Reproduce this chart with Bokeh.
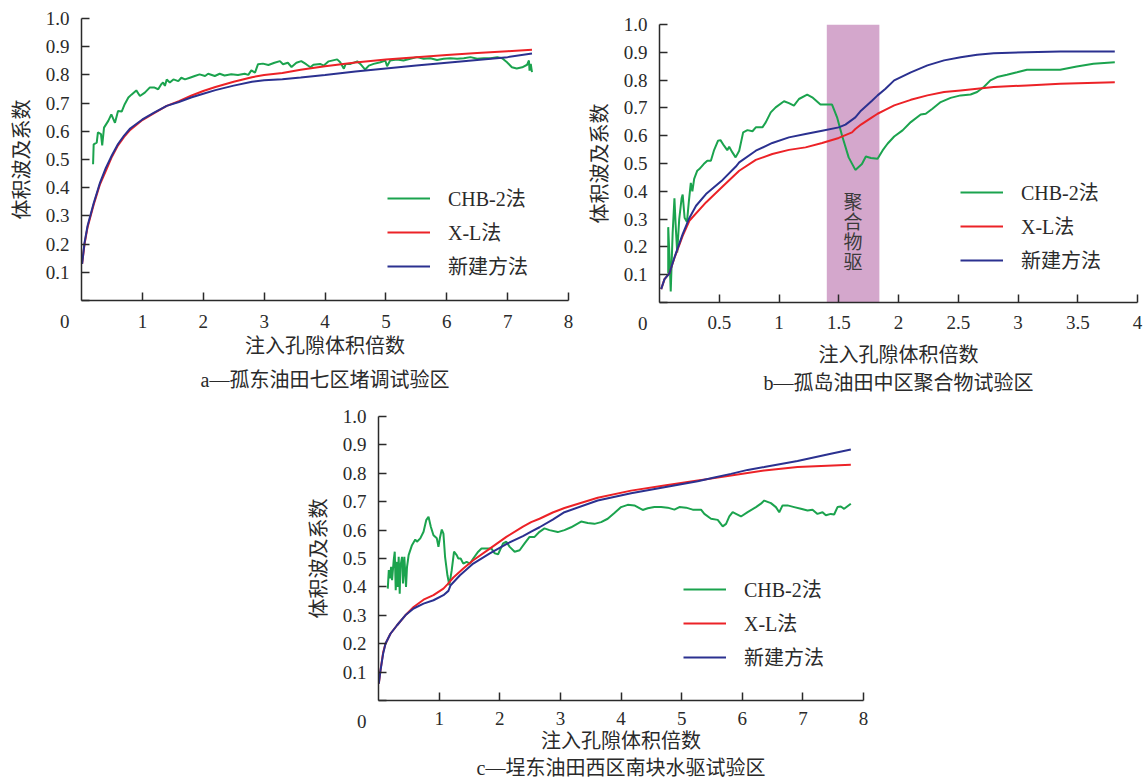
from bokeh.plotting import figure
from bokeh.models import (Range1d, FixedTicker, NumeralTickFormatter, Label,
                          Legend, LegendItem, Spacer, Title)
from bokeh.layouts import row, column
from bokeh.embed import file_html
from bokeh.resources import INLINE

FONT = "'Liberation Serif', 'Noto Sans CJK SC'"
GREEN = "#1ba34e"
RED = "#ec2227"
BLUE = "#2b3190"
INK = "#2a2a2a"

SERIES_NAMES = ["CHB-2法", "X-L法", "新建方法"]
Y_TICKS = [0, 0.1, 0.2, 0.3, 0.4, 0.5, 0.6, 0.7, 0.8, 0.9, 1.0]
Y_TITLE = "体积波及系数"
X_TITLE = "注入孔隙体积倍数"
ORIGIN_LABEL = "0"

# ---------------- panel a ----------------
A_XTICKS = [1, 2, 3, 4, 5, 6, 7, 8]
A_XLABELS = ["1", "2", "3", "4", "5", "6", "7", "8"]
A_CAPTION = "a—孤东油田七区堵调试验区"
A_CHB = [(0.19, 0.483), (0.20, 0.554), (0.25, 0.56), (0.27, 0.596), (0.32, 0.59), (0.34, 0.55),
         (0.37, 0.613), (0.44, 0.637), (0.49, 0.66), (0.55, 0.63), (0.60, 0.672), (0.66, 0.67),
         (0.71, 0.696), (0.77, 0.72), (0.82, 0.73), (0.90, 0.745), (0.96, 0.725), (1.04, 0.737),
         (1.12, 0.755), (1.20, 0.755), (1.26, 0.749), (1.31, 0.767), (1.34, 0.773), (1.37, 0.761),
         (1.40, 0.784), (1.45, 0.773), (1.51, 0.784), (1.59, 0.778), (1.64, 0.79), (1.70, 0.784),
         (1.78, 0.79), (1.86, 0.796), (1.94, 0.802), (2.03, 0.796), (2.08, 0.804), (2.19, 0.796),
         (2.27, 0.804), (2.35, 0.798), (2.46, 0.802), (2.57, 0.80), (2.68, 0.804), (2.74, 0.80),
         (2.79, 0.816), (2.85, 0.808), (2.90, 0.838), (2.98, 0.84), (3.07, 0.835), (3.17, 0.843),
         (3.26, 0.849), (3.31, 0.838), (3.39, 0.843), (3.45, 0.828), (3.53, 0.843), (3.61, 0.849),
         (3.69, 0.838), (3.76, 0.827), (3.81, 0.836), (3.92, 0.839), (3.98, 0.833), (4.06, 0.848),
         (4.20, 0.855), (4.25, 0.845), (4.31, 0.822), (4.34, 0.839), (4.42, 0.839), (4.53, 0.848),
         (4.58, 0.839), (4.66, 0.819), (4.72, 0.833), (4.80, 0.839), (4.91, 0.845), (4.99, 0.851),
         (5.02, 0.831), (5.07, 0.851), (5.18, 0.855), (5.29, 0.851), (5.40, 0.857), (5.51, 0.863),
         (5.62, 0.857), (5.73, 0.859), (5.84, 0.853), (5.95, 0.857), (6.06, 0.859), (6.17, 0.857),
         (6.28, 0.859), (6.39, 0.863), (6.50, 0.857), (6.61, 0.859), (6.72, 0.859), (6.83, 0.863),
         (6.91, 0.859), (6.99, 0.845), (7.07, 0.827), (7.15, 0.823), (7.24, 0.827), (7.32, 0.836),
         (7.35, 0.851), (7.36, 0.815), (7.38, 0.839), (7.40, 0.81)]
A_XL = [(0.01, 0.13), (0.05, 0.20), (0.1, 0.26), (0.2, 0.34), (0.3, 0.41), (0.4, 0.46), (0.5, 0.51),
        (0.6, 0.55), (0.7, 0.58), (0.8, 0.605), (1.0, 0.64), (1.2, 0.665), (1.4, 0.69), (1.6, 0.707),
        (1.8, 0.726), (2.0, 0.743), (2.2, 0.757), (2.5, 0.776), (2.8, 0.792), (3.0, 0.80), (3.3, 0.807),
        (3.6, 0.818), (4.0, 0.831), (4.5, 0.844), (5.0, 0.855), (5.5, 0.863), (6.0, 0.871), (6.5, 0.878),
        (7.0, 0.884), (7.4, 0.889)]
A_NEW = [(0.01, 0.13), (0.05, 0.205), (0.1, 0.265), (0.2, 0.345), (0.3, 0.415), (0.4, 0.47), (0.5, 0.515),
         (0.6, 0.555), (0.7, 0.585), (0.8, 0.61), (1.0, 0.642), (1.2, 0.667), (1.4, 0.69), (1.6, 0.704),
         (1.8, 0.72), (2.0, 0.733), (2.2, 0.746), (2.5, 0.762), (2.8, 0.776), (3.0, 0.781), (3.3, 0.785),
         (3.6, 0.791), (4.0, 0.80), (4.5, 0.812), (5.0, 0.823), (5.5, 0.833), (6.0, 0.843), (6.5, 0.853),
         (7.0, 0.863), (7.4, 0.876)]

# ---------------- panel b ----------------
B_XTICKS = [0.5, 1, 1.5, 2, 2.5, 3, 3.5, 4]
B_XLABELS = ["0.5", "1", "1.5", "2", "2.5", "3", "3.5", "4"]
B_CAPTION = "b—孤岛油田中区聚合物试验区"
B_BAND_LEFT = [1.40]
B_BAND_RIGHT = [1.84]
B_BAND_TEXT = "聚\n合\n物\n驱"
B_CHB = [(0.073, 0.104), (0.073, 0.271), (0.085, 0.15), (0.094, 0.04), (0.110, 0.25), (0.125, 0.375),
         (0.135, 0.28), (0.148, 0.18), (0.165, 0.30), (0.185, 0.375), (0.194, 0.388), (0.210, 0.305),
         (0.230, 0.29), (0.246, 0.365), (0.262, 0.43), (0.275, 0.40), (0.290, 0.445), (0.316, 0.474),
         (0.333, 0.48), (0.37, 0.498), (0.40, 0.51), (0.43, 0.51), (0.455, 0.546), (0.49, 0.582),
         (0.51, 0.584), (0.54, 0.564), (0.567, 0.548), (0.583, 0.56), (0.61, 0.54), (0.637, 0.522),
         (0.667, 0.546), (0.70, 0.612), (0.736, 0.62), (0.778, 0.616), (0.806, 0.63), (0.861, 0.63),
         (0.889, 0.648), (0.931, 0.684), (0.972, 0.702), (1.042, 0.724), (1.083, 0.717), (1.125, 0.708),
         (1.167, 0.732), (1.236, 0.748), (1.278, 0.738), (1.347, 0.712), (1.444, 0.712), (1.486, 0.666),
         (1.528, 0.60), (1.583, 0.522), (1.639, 0.477), (1.694, 0.498), (1.727, 0.525), (1.769, 0.52),
         (1.825, 0.517), (1.867, 0.547), (1.908, 0.571), (1.964, 0.597), (2.034, 0.619), (2.103, 0.649),
         (2.186, 0.676), (2.228, 0.679), (2.284, 0.697), (2.353, 0.721), (2.436, 0.736), (2.52, 0.745),
         (2.603, 0.748), (2.658, 0.757), (2.714, 0.775), (2.769, 0.799), (2.825, 0.811), (2.908, 0.819),
         (2.992, 0.828), (3.075, 0.837), (3.214, 0.837), (3.353, 0.837), (3.492, 0.849), (3.631, 0.859),
         (3.81, 0.864)]
B_XL = [(0.014, 0.048), (0.042, 0.084), (0.083, 0.105), (0.125, 0.16), (0.194, 0.24), (0.25, 0.294),
        (0.389, 0.36), (0.528, 0.417), (0.667, 0.474), (0.806, 0.513), (0.944, 0.534), (1.083, 0.549),
        (1.222, 0.558), (1.361, 0.574), (1.5, 0.592), (1.611, 0.612), (1.639, 0.624), (1.686, 0.64),
        (1.778, 0.666), (1.825, 0.679), (1.889, 0.693), (1.964, 0.709), (2.103, 0.729), (2.242, 0.745),
        (2.381, 0.757), (2.52, 0.763), (2.658, 0.769), (2.797, 0.775), (3.075, 0.781), (3.353, 0.787),
        (3.81, 0.792)]
B_NEW = [(0.014, 0.048), (0.042, 0.084), (0.083, 0.105), (0.125, 0.162), (0.194, 0.246), (0.25, 0.304),
         (0.306, 0.348), (0.389, 0.39), (0.528, 0.441), (0.639, 0.489), (0.667, 0.504), (0.806, 0.546),
         (0.944, 0.574), (1.083, 0.594), (1.222, 0.606), (1.361, 0.618), (1.5, 0.630), (1.556, 0.64),
         (1.639, 0.666), (1.686, 0.69), (1.778, 0.726), (1.825, 0.745), (1.889, 0.768), (1.964, 0.799),
         (2.103, 0.828), (2.242, 0.853), (2.381, 0.871), (2.52, 0.882), (2.658, 0.891), (2.797, 0.897),
         (3.075, 0.90), (3.353, 0.903), (3.81, 0.903)]

# ---------------- panel c ----------------
C_XTICKS = [1, 2, 3, 4, 5, 6, 7, 8]
C_XLABELS = ["1", "2", "3", "4", "5", "6", "7", "8"]
C_CAPTION = "c—埕东油田西区南块水驱试验区"
C_CHB = [(0.153, 0.394), (0.17, 0.459), (0.19, 0.43), (0.208, 0.471), (0.224, 0.424), (0.251, 0.494),
         (0.268, 0.524), (0.284, 0.388), (0.306, 0.488), (0.317, 0.40), (0.333, 0.506), (0.35, 0.376),
         (0.361, 0.471), (0.388, 0.506), (0.404, 0.412), (0.426, 0.506), (0.454, 0.40), (0.47, 0.47),
         (0.497, 0.512), (0.552, 0.547), (0.607, 0.567), (0.634, 0.559), (0.689, 0.571), (0.743, 0.594),
         (0.787, 0.635), (0.825, 0.647), (0.863, 0.612), (0.907, 0.582), (0.962, 0.571), (0.989, 0.541),
         (1.016, 0.576), (1.044, 0.602), (1.071, 0.588), (1.098, 0.506), (1.137, 0.441), (1.169, 0.406),
         (1.208, 0.459), (1.246, 0.524), (1.29, 0.512), (1.317, 0.50), (1.355, 0.50), (1.399, 0.482),
         (1.454, 0.488), (1.508, 0.482), (1.563, 0.50), (1.645, 0.524), (1.699, 0.535), (1.781, 0.535),
         (1.863, 0.535), (1.918, 0.518), (1.973, 0.515), (2.055, 0.553), (2.109, 0.559), (2.164, 0.541),
         (2.246, 0.524), (2.328, 0.529), (2.41, 0.553), (2.492, 0.576), (2.574, 0.576), (2.656, 0.594),
         (2.738, 0.606), (2.82, 0.60), (2.957, 0.593), (3.067, 0.60), (3.177, 0.61), (3.342, 0.63),
         (3.452, 0.625), (3.562, 0.622), (3.672, 0.628), (3.781, 0.64), (3.891, 0.66), (4.001, 0.681),
         (4.111, 0.689), (4.221, 0.687), (4.358, 0.671), (4.441, 0.677), (4.551, 0.681), (4.661, 0.681),
         (4.771, 0.679), (4.881, 0.672), (4.963, 0.681), (5.073, 0.679), (5.183, 0.672), (5.32, 0.672),
         (5.375, 0.657), (5.485, 0.64), (5.595, 0.636), (5.678, 0.613), (5.733, 0.622), (5.787, 0.648),
         (5.842, 0.663), (5.897, 0.657), (5.979, 0.648), (6.089, 0.663), (6.226, 0.681), (6.308, 0.693),
         (6.363, 0.704), (6.473, 0.695), (6.555, 0.681), (6.61, 0.663), (6.665, 0.687), (6.747, 0.687),
         (6.857, 0.681), (6.967, 0.675), (7.077, 0.669), (7.159, 0.672), (7.241, 0.657), (7.324, 0.663),
         (7.379, 0.652), (7.461, 0.657), (7.516, 0.655), (7.571, 0.681), (7.626, 0.683), (7.681, 0.675),
         (7.791, 0.693)]
C_XL = [(0.005, 0.059), (0.033, 0.106), (0.077, 0.17), (0.115, 0.20), (0.197, 0.235), (0.306, 0.265),
        (0.443, 0.30), (0.579, 0.329), (0.743, 0.355), (0.907, 0.371), (1.071, 0.394), (1.137, 0.409),
        (1.235, 0.433), (1.399, 0.465), (1.563, 0.494), (1.836, 0.535), (2.109, 0.576), (2.383, 0.612),
        (2.518, 0.628), (2.656, 0.64), (2.874, 0.662), (3.067, 0.678), (3.616, 0.714), (4.166, 0.739),
        (4.715, 0.757), (5.265, 0.775), (5.54, 0.783), (5.814, 0.792), (6.363, 0.81), (6.912, 0.822),
        (7.791, 0.83)]
C_NEW = [(0.005, 0.059), (0.033, 0.106), (0.077, 0.165), (0.115, 0.20), (0.197, 0.235), (0.306, 0.265),
         (0.443, 0.30), (0.579, 0.324), (0.743, 0.341), (0.907, 0.353), (1.071, 0.371), (1.153, 0.386),
         (1.19, 0.406), (1.344, 0.441), (1.563, 0.482), (1.836, 0.518), (2.109, 0.551), (2.383, 0.579),
         (2.518, 0.595), (2.656, 0.61), (2.874, 0.637), (3.067, 0.663), (3.616, 0.704), (4.166, 0.73),
         (4.715, 0.751), (5.265, 0.772), (5.54, 0.785), (5.814, 0.798), (6.089, 0.812), (6.363, 0.822),
         (6.912, 0.843), (7.461, 0.869), (7.791, 0.884)]


def make_panel(curves, xmax, xticks, xlabels, caption, fw, fh, mbl, mbr, mbt, mbb,
               leg_xy, lab_standoff, title_standoff, cap_standoff, band=None):
    p = figure(width=mbl + fw + mbr, height=mbt + fh + mbb,
               min_border_left=mbl, min_border_right=mbr,
               min_border_top=mbt, min_border_bottom=mbb,
               x_range=Range1d(0, xmax), y_range=Range1d(0, 1.0),
               title_location=None,
               output_backend="svg", toolbar_location=None, tools="")
    p.outline_line_color = None
    p.grid.visible = False
    p.background_fill_color = "white"
    p.border_fill_color = "white"

    if band is not None:
        left, right, text = band
        p.quad(left=left, right=right, bottom=[0] * len(left), top=[1.0] * len(left),
               fill_color="#d4a7cc", line_color=None)
        p.add_layout(Label(x=(left[0] + right[0]) / 2, y=0.252, text=text,
                           text_align="center", text_baseline="middle",
                           text_font=FONT, text_font_size="19px", text_color="#3a3a3a",
                           text_line_height=0.95))

    rends = []
    for pts, color in zip(curves, [GREEN, RED, BLUE]):
        xs = [a for a, b in pts]
        ys = [b for a, b in pts]
        rends.append(p.line(xs, ys, line_color=color, line_width=2))

    for ax in (p.xaxis[0], p.yaxis[0]):
        ax.axis_line_color = INK
        ax.axis_line_width = 1.5
        ax.major_tick_line_color = INK
        ax.major_tick_line_width = 1.5
        ax.major_tick_in = 8
        ax.major_tick_out = 0
        ax.minor_tick_line_color = None
        ax.major_label_text_font = FONT
        ax.major_label_text_font_size = "19px"
        ax.major_label_text_color = INK
        ax.axis_label_text_font = FONT
        ax.axis_label_text_font_size = "20px"
        ax.axis_label_text_font_style = "normal"
        ax.axis_label_text_color = INK

    p.xaxis.ticker = FixedTicker(ticks=xticks)
    p.xaxis.major_label_overrides = dict(zip(xticks, xlabels))
    p.xaxis.major_label_standoff = lab_standoff
    p.xaxis.axis_label = X_TITLE
    p.xaxis.axis_label_standoff = title_standoff

    # the origin "0" sits below-left of the corner: a 3-line label on the y tick 0
    p.yaxis.ticker = FixedTicker(ticks=Y_TICKS)
    p.yaxis.formatter = NumeralTickFormatter(format="0.0")
    p.yaxis.major_label_overrides = {0: "\n\n" + ORIGIN_LABEL}
    p.yaxis.major_label_text_line_height = 1.0
    p.yaxis.major_label_standoff = 12
    p.yaxis.axis_label = Y_TITLE
    p.yaxis.axis_label_standoff = 10

    p.add_layout(Title(text=caption, align="center", text_font=FONT, text_font_size="20px",
                       text_font_style="normal", text_color=INK, standoff=cap_standoff), "below")

    items = [LegendItem(label=n, renderers=[r]) for n, r in zip(SERIES_NAMES, rends)]
    leg = Legend(items=items, location=leg_xy, orientation="vertical",
                 glyph_width=43, glyph_height=20, label_height=20, label_standoff=18,
                 spacing=5, padding=0, margin=0,
                 border_line_alpha=0, background_fill_alpha=0,
                 label_text_font=FONT, label_text_font_size="20px", label_text_color=INK)
    p.add_layout(leg)
    return p


fa = make_panel([A_CHB, A_XL, A_NEW], 8, A_XTICKS, A_XLABELS, A_CAPTION,
                487, 282, 81, 17, 18, 100, (306, 20), 14, 4, 15)
fb = make_panel([B_CHB, B_XL, B_NEW], 4, B_XTICKS, B_XLABELS, B_CAPTION,
                479, 278, 73, 6, 18, 98, (301, 28), 13, 12, 2,
                band=(B_BAND_LEFT, B_BAND_RIGHT, B_BAND_TEXT))
fc = make_panel([C_CHB, C_XL, C_NEW], 8, C_XTICKS, C_XLABELS, C_CAPTION,
                486, 284, 73, 15, 16, 80, (305, 29), 11, 2, 0)

layout = column(row(column(fa), column(Spacer(height=6), fb)),
                row(Spacer(width=304, height=10), fc))

open("out.html", "w").write(file_html(layout, INLINE))
